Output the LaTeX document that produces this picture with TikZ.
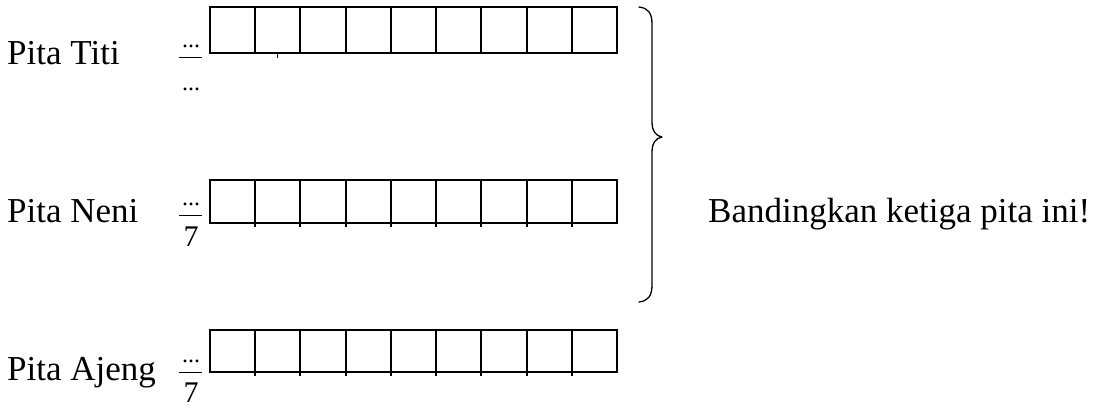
\documentclass[tikz,border=0pt]{standalone}
\usepackage{fontspec}
\setmainfont{Liberation Serif}
\begin{document}
\begin{tikzpicture}[x=1pt,y=-1pt,
  lbl/.style={anchor=base west, inner sep=0pt, font=\fontsize{35}{40}\selectfont},
  dots/.style={anchor=base, inner sep=0pt, font=\fontsize{24}{28}\selectfont},
  den/.style={anchor=base, inner sep=0pt, font=\fontsize{30}{34}\selectfont},
  barline/.style={line width=2pt},
  fracline/.style={line width=1pt},
  brace/.style={line width=1.3pt, line cap=round, line join=round},
  ]
\useasboundingbox (0,0) rectangle (1094,408);

% labels
\node[lbl] (titi) at (7,64) {Pita Titi};
\node[lbl] (neni) at (7,222) {Pita Neni};
\node[lbl] (ajeng) at (7,380) {Pita Ajeng};
\node[lbl] (q) at (708,222) {Bandingkan ketiga pita ini!};

% fractions
\node[dots] (n1) at (191,47) {...};
\draw[fracline] (179,57) -- (202,57);
\node[dots] (d1) at (191,90) {...};

\node[dots] (n2) at (191,205) {...};
\draw[fracline] (179,215) -- (202,215);
\node[den] (d2) at (191,246) {7};

\node[dots] (n3) at (191,362) {...};
\draw[fracline] (179,372) -- (202,372);
\node[den] (d3) at (191,402) {7};

% bars
\draw[barline] (210,7) rectangle (617,53);
\foreach \i in {1,...,8} \draw[barline] (210+\i*45.22,7) -- (210+\i*45.22,53);
\draw[line width=1pt] (277,53) -- (277,58);

\draw[barline] (210,180) rectangle (617,223);
\foreach \i in {1,...,8} \draw[barline] (210+\i*45.22,180) -- (210+\i*45.22,227);

\draw[barline] (210,330) rectangle (617,372);
\foreach \i in {1,...,8} \draw[barline] (210+\i*45.22,330) -- (210+\i*45.22,376);

% brace
\draw[brace] (639,7) .. controls (648,8) and (652,13) .. (652,24)
  -- (652,122) .. controls (652,131) and (656,136) .. (662,137)
  .. controls (656,138) and (652,143) .. (652,152)
  -- (652,285) .. controls (652,296) and (648,301) .. (639,302);
\end{tikzpicture}
\end{document}
